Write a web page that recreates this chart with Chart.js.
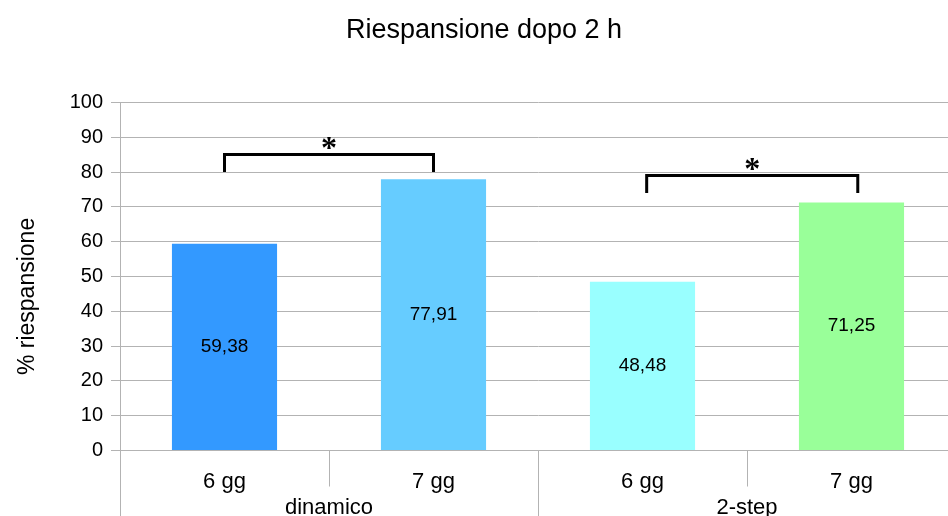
<!DOCTYPE html>
<html>
<head>
<meta charset="utf-8">
<script src="https://cdn.jsdelivr.net/npm/chart.js@4/dist/chart.umd.min.js"></script>
<style>
  html, body { margin: 0; padding: 0; background: #fff; overflow: hidden; }
  #wrap { position: relative; width: 968px; height: 524px; }
</style>
</head>
<body>
<div id="wrap"><canvas id="c"></canvas></div>
<script>
// Categories and values
const categories = ['6 gg', '7 gg', '6 gg', '7 gg'];
const groups = ['dinamico', '2-step'];
const groupEnds = [1, 3];                 // last category index of each group
const values = [59.38, 77.91, 48.48, 71.25];
const barColors = ['#3399ff', '#66ccff', '#99ffff', '#99ff99'];
const yMin = 0, yMax = 100, yStep = 10;

// Significance brackets (category positions, value range, mark)
const bracketFrom = [0, 2.02];
const bracketTo = [1, 3.03];
const bracketLow = [80, 74];
const bracketHigh = [85, 79];
const bracketMark = ['*', '*'];

const FONT = '"Liberation Sans", Arial, sans-serif';
const GRID = '#b3b3b3';

// Value labels inside the bars, Italian decimal comma
const barLabels = {
  id: 'barLabels',
  afterDatasetsDraw(chart) {
    const ctx = chart.ctx;
    const meta = chart.getDatasetMeta(0);
    ctx.save();
    ctx.font = '19px ' + FONT;
    ctx.fillStyle = '#000';
    ctx.textAlign = 'center';
    ctx.textBaseline = 'middle';
    meta.data.forEach((bar, i) => {
      const txt = values[i].toFixed(2).replace('.', ',');
      ctx.fillText(txt, bar.x, (bar.y + bar.base) / 2);
    });
    ctx.restore();
  }
};

// Brackets with asterisks
const brackets = {
  id: 'brackets',
  afterDatasetsDraw(chart) {
    const ctx = chart.ctx;
    const xs = chart.scales.x, ys = chart.scales.y;
    ctx.save();
    ctx.strokeStyle = '#000';
    ctx.lineWidth = 3;
    ctx.lineJoin = 'miter';
    ctx.lineCap = 'butt';
    for (let i = 0; i < bracketFrom.length; i++) {
      const x1 = xs.getPixelForValue(bracketFrom[i]);
      const x2 = xs.getPixelForValue(bracketTo[i]);
      const yl = ys.getPixelForValue(bracketLow[i]);
      const yh = ys.getPixelForValue(bracketHigh[i]);
      ctx.beginPath();
      ctx.moveTo(x1, yl);
      ctx.lineTo(x1, yh);
      ctx.lineTo(x2, yh);
      ctx.lineTo(x2, yl);
      ctx.stroke();
      // asterisk centred a little above the bracket
      ctx.font = 'bold 32px "Liberation Serif", serif';
      ctx.fillStyle = '#000';
      ctx.textAlign = 'center';
      ctx.textBaseline = 'alphabetic';
      const m = ctx.measureText(bracketMark[i]);
      const cy = yh - 12;
      const baseline = cy + (m.actualBoundingBoxAscent - m.actualBoundingBoxDescent) / 2;
      ctx.fillText(bracketMark[i], (x1 + x2) / 2, baseline);
    }
    ctx.restore();
  }
};

// Category dividers below the axis and the vertical axis title
const axisDecor = {
  id: 'axisDecor',
  afterDraw(chart) {
    const ctx = chart.ctx;
    const xs = chart.scales.x;
    const area = chart.chartArea;
    ctx.save();
    ctx.strokeStyle = GRID;
    ctx.lineWidth = 1;
    for (let k = -1; k < categories.length; k++) {
      const px = Math.round(xs.getPixelForValue(k + 0.5)) + 0.5;
      const isGroupEdge = k === -1 || groupEnds.includes(k);
      ctx.beginPath();
      ctx.moveTo(px, area.bottom);
      ctx.lineTo(px, isGroupEdge ? chart.height : area.bottom + 36);
      ctx.stroke();
    }
    ctx.restore();

    ctx.save();
    ctx.font = '23px ' + FONT;
    ctx.fillStyle = '#000';
    ctx.textAlign = 'center';
    ctx.textBaseline = 'middle';
    ctx.translate(28, (area.top + area.bottom) / 2 + 20);
    ctx.rotate(-Math.PI / 2);
    ctx.fillText('% riespansione', 0, 0);
    ctx.restore();
  }
};

new Chart(document.getElementById('c'), {
  type: 'bar',
  data: {
    labels: categories,
    datasets: [{
      data: values,
      backgroundColor: barColors,
      borderWidth: 0,
      categoryPercentage: 1,
      barPercentage: 0.503,
      xAxisID: 'x',
      yAxisID: 'y'
    }]
  },
  options: {
    responsive: true,
    maintainAspectRatio: false,
    animation: false,
    layout: { padding: { left: 12, right: 12, top: 0, bottom: 0 } },
    plugins: {
      legend: { display: false },
      tooltip: { enabled: false },
      title: {
        display: true,
        text: 'Riespansione dopo 2 h',
        color: '#000',
        font: { family: FONT, size: 27, weight: 'normal' },
        padding: { top: 14, bottom: 56 }
      }
    },
    scales: {
      x: {
        type: 'category',
        labels: categories,
        offset: true,
        afterFit(scale) { scale.height = 44; },
        grid: { display: false, drawTicks: false },
        border: { display: true, color: GRID, width: 1 },
        ticks: { color: '#000', font: { family: FONT, size: 22 }, padding: 18, maxRotation: 0, autoSkip: false }
      },
      x2: {
        type: 'category',
        labels: groups,
        position: 'bottom',
        offset: true,
        afterFit(scale) { scale.height = 29.5; },
        grid: { display: false, drawTicks: false },
        border: { display: false },
        ticks: { color: '#000', font: { family: FONT, size: 22 }, padding: 0, maxRotation: 0, autoSkip: false }
      },
      y: {
        min: yMin,
        max: yMax,
        afterFit(scale) { scale.width = 108; },
        ticks: { stepSize: yStep, color: '#000', font: { family: FONT, size: 20 }, padding: 8 },
        grid: { color: GRID, lineWidth: 1, tickLength: 9, drawTicks: true },
        border: { display: true, color: GRID, width: 1 }
      }
    }
  },
  plugins: [barLabels, brackets, axisDecor]
});
</script>
</body>
</html>
